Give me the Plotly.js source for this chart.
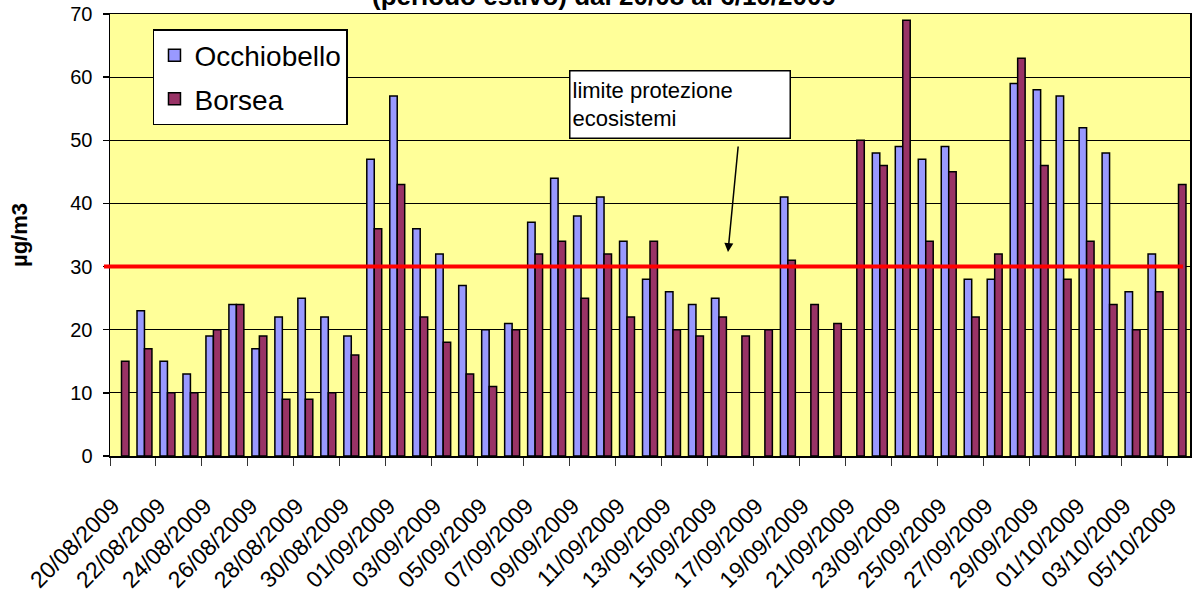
<!DOCTYPE html>
<html>
<head>
<meta charset="utf-8">
<script src="https://cdn.plot.ly/plotly-3.0.1.min.js"></script>
<style>
  html, body { margin: 0; padding: 0; background: #ffffff; }
  #chart { width: 1193px; height: 597px; }
</style>
</head>
<body>
<div id="chart"></div>
<script>
// ---- data ----
const dates = [
  '20/08/2009','21/08/2009','22/08/2009','23/08/2009','24/08/2009','25/08/2009','26/08/2009',
  '27/08/2009','28/08/2009','29/08/2009','30/08/2009','31/08/2009',
  '01/09/2009','02/09/2009','03/09/2009','04/09/2009','05/09/2009','06/09/2009','07/09/2009',
  '08/09/2009','09/09/2009','10/09/2009','11/09/2009','12/09/2009','13/09/2009','14/09/2009',
  '15/09/2009','16/09/2009','17/09/2009','18/09/2009','19/09/2009','20/09/2009','21/09/2009',
  '22/09/2009','23/09/2009','24/09/2009','25/09/2009','26/09/2009','27/09/2009','28/09/2009',
  '29/09/2009','30/09/2009','01/10/2009','02/10/2009','03/10/2009','04/10/2009','05/10/2009'
];
const occhiobello = [
  null, 23, 15, 13, 19, 24, 17, 22, 25, 22, 19, 47,
  57, 36, 32, 27, 20, 21, 37, 44, 38, 41, 34, 28, 26, 24, 25, null, null, 41, null, null, null,
  48, 49, 47, 49, 28, 28, 59, 58,
  57, 52, 48, 26, 32, null
];
const borsea = [
  15, 17, 10, 10, 20, 24, 19, 9, 9, 10, 16, 36,
  43, 22, 18, 13, 11, 20, 32, 34, 25, 32, 22, 34, 20, 19, 22, 19, 20, 31, 24, 21, 50,
  46, 69, 34, 45, 22, 32, 63, 46,
  28, 34, 24, 20, 26, 43
];
const limitValue = 30;               // limite protezione ecosistemi
const tickLabels = dates.filter((d, i) => i % 2 === 0);
const tickPositions = dates.map((d, i) => i).filter(i => i % 2 === 0);

const seriesNames = ['Occhiobello', 'Borsea'];
const FONT = 'Liberation Sans, Arial, sans-serif';

const idx = dates.map((d, i) => i);

const traces = [
  {
    type: 'bar', name: seriesNames[0], x: idx, y: occhiobello, text: dates,
    hovertemplate: '%{text}: %{y}<extra>Occhiobello</extra>', textposition: 'none',
    marker: { color: '#9999FF', line: { color: '#000000', width: 1.5 } },
    legendgroup: 'a'
  },
  {
    type: 'bar', name: seriesNames[1], x: idx, y: borsea, text: dates,
    hovertemplate: '%{text}: %{y}<extra>Borsea</extra>', textposition: 'none',
    marker: { color: '#993366', line: { color: '#000000', width: 1.5 } },
    legendgroup: 'b'
  }
];

const layout = {
  width: 1193, height: 597,
  margin: { l: 110, r: 3, t: 14, b: 141 },
  paper_bgcolor: '#ffffff',
  plot_bgcolor: '#FFFF99',
  font: { family: FONT, color: '#000000' },
  barmode: 'group',
  bargap: 0.35,
  bargroupgap: 0,
  showlegend: true,
  legend: {
    x: 0.0398, y: 0.966, xanchor: 'left', yanchor: 'top',
    bgcolor: '#ffffff', bordercolor: '#000000', borderwidth: 1.5,
    font: { family: FONT, size: 28, color: '#000000' },
    traceorder: 'grouped', tracegroupgap: 4
  },
  xaxis: {
    type: 'linear',
    range: [-0.5, dates.length - 0.5],
    tickmode: 'array',
    tickvals: tickPositions.map(p => p - 0.5),
    ticktext: tickLabels,
    ticklabelshift: 3,
    ticklabelstandoff: 18,
    tickangle: -45,
    ticks: 'outside', ticklen: 8, tickwidth: 1, tickcolor: '#333333',
    tickfont: { family: FONT, size: 23, color: '#000000' },
    showgrid: false, zeroline: false,
    showline: true, linecolor: '#000000', linewidth: 1.5, mirror: true
  },
  yaxis: {
    range: [0, 70], dtick: 10, tick0: 0,
    ticks: 'outside', ticklen: 6, tickwidth: 1.5, tickcolor: '#000000',
    ticklabelstandoff: 6,
    tickfont: { family: FONT, size: 20, color: '#000000' },
    showgrid: true, gridcolor: '#000000', gridwidth: 1.2,
    zeroline: false,
    showline: true, linecolor: '#000000', linewidth: 1.5, mirror: true,
    title: { text: '<b>µg/m3</b>', font: { family: FONT, size: 22, color: '#000000' }, standoff: 36 }
  },
  shapes: [
    {
      type: 'line', layer: 'above',
      xref: 'paper', x0: -0.0056, x1: 0.9935,
      yref: 'y', y0: limitValue, y1: limitValue,
      line: { color: '#FF0000', width: 4 }
    }
  ],
  annotations: [
    {
      text: '<b>(periodo estivo) dal 20/08 al 6/10/2009</b>',
      xref: 'paper', yref: 'paper', x: 0.457, y: 1.0407,
      xanchor: 'center', yanchor: 'middle', showarrow: false,
      font: { family: FONT, size: 26, color: '#000000' }
    },
    {
      text: 'limite protezione<br>ecosistemi',
      xref: 'paper', yref: 'paper', x: 0.425, y: 0.8733,
      xanchor: 'left', yanchor: 'top', showarrow: false,
      align: 'left', valign: 'middle',
      width: 215, height: 62,
      bgcolor: '#ffffff', bordercolor: '#000000', borderwidth: 1.5, borderpad: 2,
      font: { family: FONT, size: 22, color: '#000000' }
    },
    {
      text: ' ',
      xref: 'paper', yref: 'paper', x: 0.5722, y: 0.4615,
      showarrow: true, ax: 11, ay: -114,
      arrowhead: 2, arrowsize: 1.2, arrowwidth: 1.5, arrowcolor: '#000000'
    }
  ]
};

Plotly.newPlot('chart', traces, layout, { displayModeBar: false, staticPlot: true });
</script>
</body>
</html>
